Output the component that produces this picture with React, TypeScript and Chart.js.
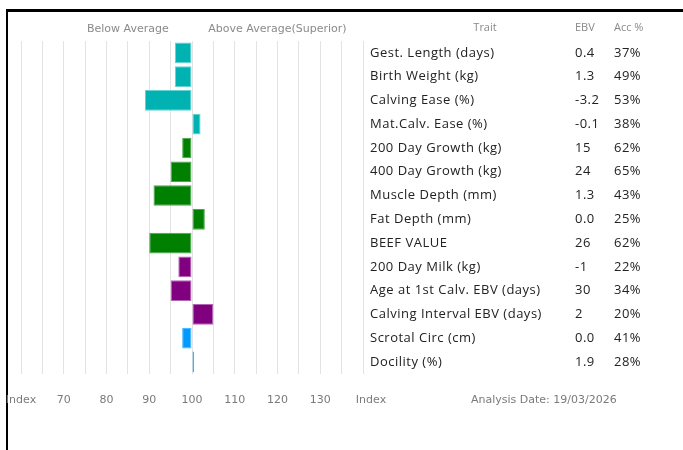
import React, { useEffect, useRef } from "react";
import { Chart, registerables } from "chart.js";

Chart.register(...registerables);

const traits = [
  "Gest. Length (days)",
  "Birth Weight (kg)",
  "Calving Ease (%)",
  "Mat.Calv. Ease (%)",
  "200 Day Growth (kg)",
  "400 Day Growth (kg)",
  "Muscle Depth (mm)",
  "Fat Depth (mm)",
  "BEEF VALUE",
  "200 Day Milk (kg)",
  "Age at 1st Calv. EBV (days)",
  "Calving Interval EBV (days)",
  "Scrotal Circ (cm)",
  "Docility (%)",
];
const ebvValues = ["0.4", "1.3", "-3.2", "-0.1", "15", "24", "1.3", "0.0", "26", "-1", "30", "2", "0.0", "1.9"];
const accValues = ["37%", "49%", "53%", "38%", "62%", "65%", "43%", "25%", "62%", "22%", "34%", "20%", "41%", "28%"];
const indexValues = [96, 96, 89, 102, 97.7, 95, 91, 103, 90, 96.8, 95, 105, 97.7, 100.5];
const groups = ["a", "a", "a", "a", "b", "b", "b", "b", "b", "c", "c", "c", "d", "d"];
const fillColors: Record<string, string> = { a: "#00B2B2", b: "#008000", c: "#800080", d: "#0099FF" };
const edgeColors: Record<string, string> = { a: "#66D1D1", b: "#4DA64D", c: "#B366B3", d: "#40B3FF" };
const tickLabels: Record<number, string> = { 60: "Index", 70: "70", 80: "80", 90: "90", 100: "100", 110: "110", 120: "120", 130: "130" };
const headerLeft = "Below Average";
const headerRight = "Above Average(Superior)";
const tableHeaders = ["Trait", "EBV", "Acc %"];
const dateText = "Analysis Date: 19/03/2026";

const textPlugin = {
  id: "textPlugin",
  afterDraw(chart: any) {
    const ctx = chart.ctx;
    const x = chart.scales.x;
    const y = chart.scales.y;
    ctx.save();
    ctx.fillStyle = "#8a8a8a";
    ctx.font = "11px 'DejaVu Sans'";
    ctx.textBaseline = "middle";
    ctx.textAlign = "center";
    ctx.fillText(headerLeft, x.getPixelForValue(85), 29);
    ctx.fillText(headerRight, x.getPixelForValue(120), 29);
    ctx.font = "11px 'Open Sans'";
    ctx.fillStyle = "#8a8a8a";
    ctx.textAlign = "center";
    ctx.fillText(tableHeaders[0], 485, 28);
    ctx.textAlign = "left";
    ctx.fillText(tableHeaders[1], 575, 28);
    ctx.fillText(tableHeaders[2], 614, 28);
    ctx.font = "13px 'Open Sans'";
    (ctx as any).letterSpacing = "0.5px";
    ctx.fillStyle = "#222";
    traits.forEach((t, i) => {
      const py = y.getPixelForValue(i);
      ctx.fillText(t, 370, py);
      ctx.fillText(ebvValues[i], 575, py);
      ctx.fillText(accValues[i], 614, py);
    });
    (ctx as any).letterSpacing = "0px";
    ctx.font = "11px 'DejaVu Sans'";
    ctx.fillStyle = "#7a7a7a";
    ctx.textAlign = "center";
    ctx.fillText("Index", x.getPixelForValue(140) + 8, 400);
    ctx.textAlign = "left";
    ctx.fillText(dateText, 471, 400);
    ctx.restore();
  },
};

export default function App() {
  const ref = useRef<HTMLCanvasElement>(null);
  useEffect(() => {
    if (!ref.current) return;
    const chart = new Chart(ref.current, {
      type: "bar",
      data: {
        labels: traits,
        datasets: [
          {
            data: indexValues,
            base: 100,
            backgroundColor: groups.map((g) => fillColors[g]),
            borderColor: groups.map((g) => edgeColors[g]),
            borderWidth: 1,
            borderSkipped: false,
            barPercentage: 0.87,
            categoryPercentage: 1,
          } as any,
        ],
      },
      options: {
        indexAxis: "y",
        animation: false,
        responsive: false,
        devicePixelRatio: 1,
        layout: { padding: { left: 21, right: 320, top: 41, bottom: 23 } },
        plugins: { legend: { display: false }, tooltip: { enabled: false } },
        scales: {
          x: {
            type: "linear",
            min: 60,
            max: 140,
            border: { display: false },
            grid: { color: "#e3e3e3", drawTicks: false, lineWidth: 1 },
            afterFit: (scale: any) => {
              scale.paddingLeft = 0;
              scale.paddingRight = 0;
            },
            ticks: {
              stepSize: 5,
              autoSkip: false,
              maxRotation: 0,
              padding: 20,
              color: "#7a7a7a",
              font: { family: "DejaVu Sans", size: 11 },
              callback: (v: any) => (tickLabels[v as number] !== undefined ? tickLabels[v as number] : ""),
            },
          },
          y: { display: false },
        },
      },
      plugins: [textPlugin],
    });
    return () => chart.destroy();
  }, []);
  return (
    <div style={{ position: "fixed", left: 0, top: 0, width: 683, height: 450, overflow: "hidden", background: "#fff" }}>
      <div
        style={{
          position: "absolute",
          left: 6,
          top: 9,
          width: 720,
          height: 480,
          borderTop: "3px solid #000",
          borderLeft: "2px solid #000",
        }}
      />
      <canvas ref={ref} width={683} height={450} style={{ position: "absolute", left: 0, top: 0 }} />
    </div>
  );
}
